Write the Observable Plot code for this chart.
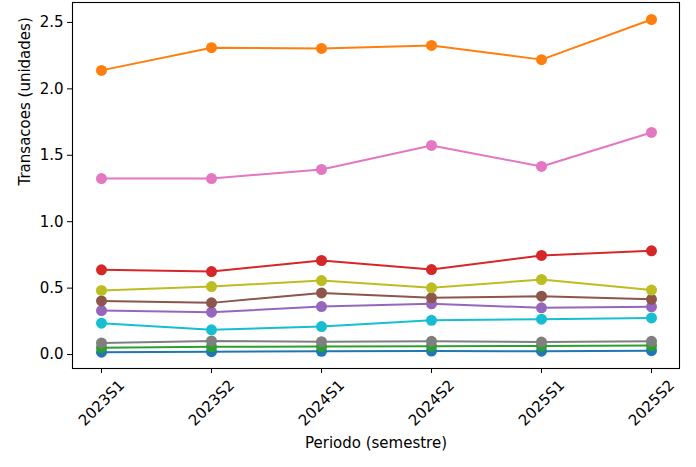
<!DOCTYPE html>
<html>
<head>
<meta charset="utf-8">
<script src="https://cdn.jsdelivr.net/npm/d3@7"></script>
<script src="https://cdn.jsdelivr.net/npm/@observablehq/plot@0.6"></script>
<style>
  html, body { margin: 0; padding: 0; background: white; }
  svg { font-family: "DejaVu Sans", sans-serif; }
</style>
</head>
<body>
<div id="chart"></div>
<script>
const periods = ["2023S1", "2023S2", "2024S1", "2024S2", "2025S1", "2025S2"];

const serieBlue   = [0.018, 0.022, 0.024, 0.026, 0.025, 0.029];
const serieOrange = [2.139, 2.310, 2.304, 2.327, 2.220, 2.522];
const serieGreen  = [0.052, 0.058, 0.060, 0.063, 0.064, 0.068];
const serieRed    = [0.638, 0.625, 0.708, 0.640, 0.746, 0.781];
const seriePurple = [0.331, 0.319, 0.361, 0.382, 0.352, 0.359];
const serieBrown  = [0.404, 0.389, 0.464, 0.427, 0.439, 0.416];
const seriePink   = [1.325, 1.325, 1.393, 1.574, 1.416, 1.672];
const serieGray   = [0.087, 0.102, 0.097, 0.100, 0.094, 0.100];
const serieOlive  = [0.483, 0.512, 0.557, 0.502, 0.565, 0.485];
const serieCyan   = [0.236, 0.186, 0.211, 0.258, 0.266, 0.276];

const seriesList = [serieBlue, serieOrange, serieGreen, serieRed, seriePurple,
                    serieBrown, seriePink, serieGray, serieOlive, serieCyan];
const colors = ["#1f77b4", "#ff7f0e", "#2ca02c", "#d62728", "#9467bd",
                "#8c564b", "#e377c2", "#7f7f7f", "#bcbd22", "#17becf"];
const yTicks = [0, 0.5, 1.0, 1.5, 2.0, 2.5];

const seriesMarks = seriesList.flatMap((vals, i) => {
  const rows = periods.map((p, j) => ({period: p, value: vals[j]}));
  return [
    Plot.line(rows, {x: "period", y: "value", stroke: colors[i], strokeWidth: 2}),
    Plot.dot(rows, {x: "period", y: "value", fill: colors[i], r: 5.5, stroke: "none"})
  ];
});

const FS = 15;
const chart = Plot.plot({
  width: 696,
  height: 467,
  marginLeft: 72,
  marginRight: 17,
  marginTop: 2,
  marginBottom: 99,
  style: {fontFamily: "DejaVu Sans, sans-serif", fontSize: FS + "px", color: "black", background: "white"},
  x: {type: "point", domain: periods, padding: 0.25},
  y: {domain: [-0.105, 2.65]},
  marks: [
    ...seriesMarks,
    Plot.frame({stroke: "black", strokeWidth: 1.1}),
    Plot.axisY({ticks: yTicks, tickFormat: d3.format(".1f"), tickSize: 5, tickPadding: 4, label: null, fontSize: FS, stroke: "black"}),
    Plot.axisX({tickSize: 5, tickFormat: () => "", label: null, stroke: "black"}),
    Plot.text(periods, {x: d => d, frameAnchor: "bottom", dy: 34.5, rotate: -45, textAnchor: "middle", lineAnchor: "middle", fontSize: FS, fill: "black"}),
    Plot.text(["Periodo (semestre)"], {frameAnchor: "bottom", dy: 75, lineAnchor: "middle", fontSize: FS, fill: "black"}),
    Plot.text(["Transacoes (unidades)"], {frameAnchor: "left", dx: -47.5, rotate: -90, lineAnchor: "middle", fontSize: FS, fill: "black"})
  ]
});
document.getElementById("chart").appendChild(chart);
</script>
</body>
</html>
